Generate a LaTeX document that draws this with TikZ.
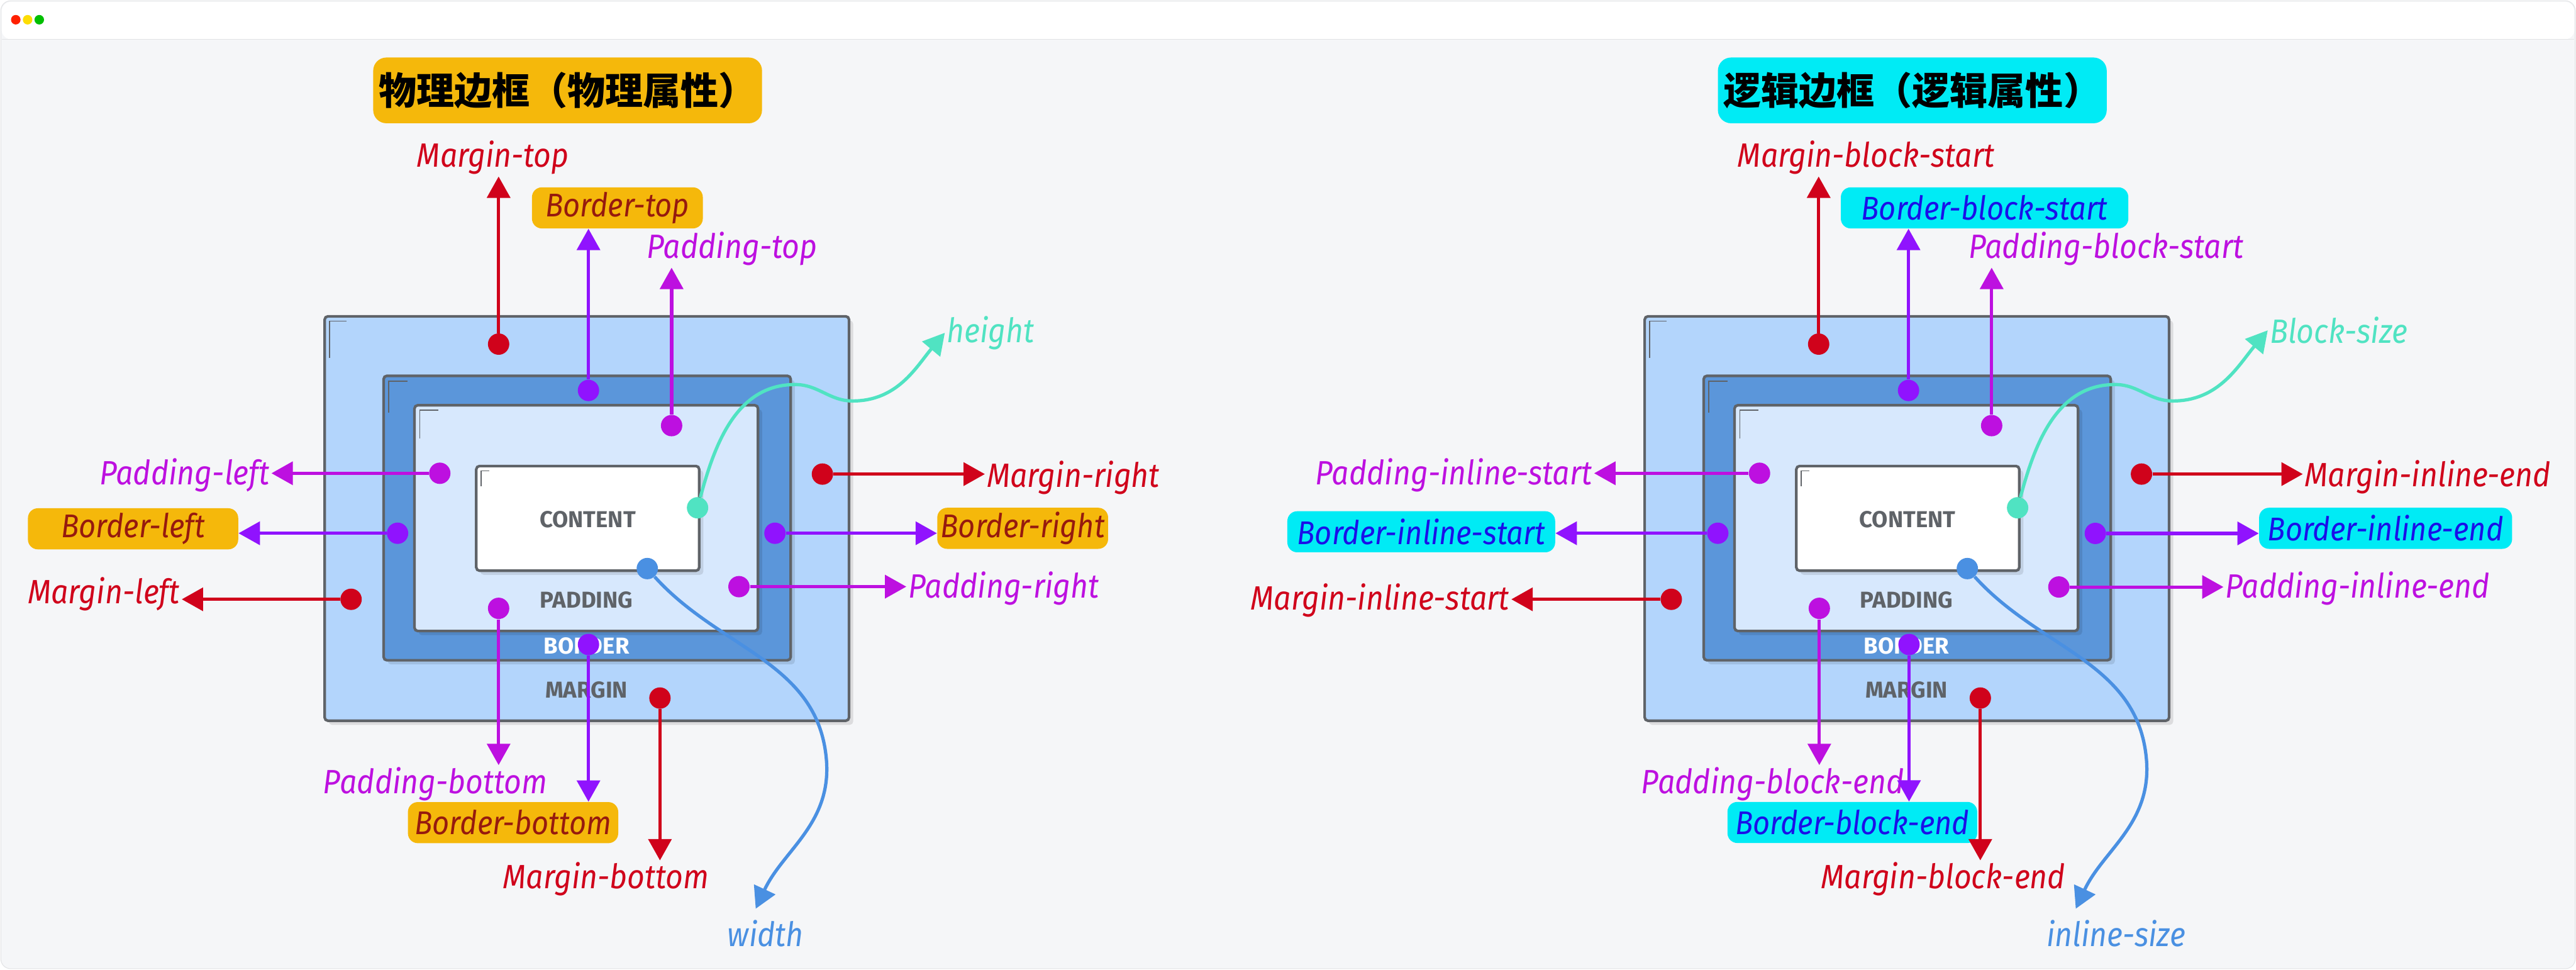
\documentclass[tikz,border=0pt]{standalone}
\usepackage{fontspec}
\setmainfont{Fira Sans}
\newfontfamily\handfont{Fira Sans}[FakeStretch=0.9]
\newfontfamily\cjkfont{Noto Sans CJK SC}
\usetikzlibrary{arrows.meta,shadows}

\definecolor{cRed}{HTML}{D0021B}
\definecolor{cViolet}{HTML}{9013FE}
\definecolor{cMag}{HTML}{BD10E0}
\definecolor{cTeal}{HTML}{50E3C2}
\definecolor{cBlue}{HTML}{4A90E2}
\definecolor{cOrange}{HTML}{F5B80B}
\definecolor{cCyan}{HTML}{00EBF5}
\definecolor{tagRed}{HTML}{961A0E}
\definecolor{tagBlue}{HTML}{1A10E8}
\definecolor{frameC}{HTML}{5F6368}
\definecolor{marC}{HTML}{B3D5FC}
\definecolor{borC}{HTML}{5B96DA}
\definecolor{padC}{HTML}{D7E8FD}
\definecolor{bodyC}{HTML}{F5F6F8}
\definecolor{winC}{HTML}{E2E3E5}

\tikzset{
  box/.style={draw=frameC, line width=1.6pt, rounded corners=2pt, fill=#1,
    drop shadow={shadow xshift=2.5pt, shadow yshift=-2.5pt, fill=black, opacity=0.10}},
  nick/.style={draw=frameC, line width=0.6pt},
  word/.style={font=\bfseries\fontsize{14}{14}\selectfont, text=frameC, inner sep=0pt},
  dot/.style={circle, fill=#1, inner sep=0pt, minimum size=13pt},
  arr/.style={draw=#1, line width=2pt, -{Triangle[length=13pt,width=14pt]}},
  lab/.style={font=\handfont\itshape\fontsize{20.5}{20.5}\selectfont, text=#1, inner sep=1pt},
  tagbox/.style={fill=#1, rounded corners=6pt, inner sep=0pt, minimum height=25pt,
    font=\handfont\itshape\fontsize{20}{20}\selectfont},
  otag/.style={tagbox=cOrange, text=tagRed},
  ctag/.style={tagbox=cCyan, text=tagBlue},
  headbox/.style={fill=#1, rounded corners=8pt, minimum width=233pt, minimum height=40pt,
    font=\cjkfont\bfseries\fontsize{23}{23}\selectfont}
}

\begin{document}
\begin{tikzpicture}[x=1pt, y=1pt]
  \useasboundingbox (0,0) rectangle (1568,-590);

  % 背景
  \fill[white] (0,0) rectangle (1568,-590);
  \draw[winC, fill=bodyC, rounded corners=6pt] (0.5,-0.5) rectangle (1567.5,-589.5);
  \fill[white, rounded corners=6pt] (1,-1) -- (1567,-1) -- (1567,-24) -- (1,-24) -- cycle;
  \draw[winC] (1,-24) -- (1567,-24);
  \fill[red!75!orange] (9.6,-12) circle (2.9);
  \fill[yellow!80!orange] (16.8,-12) circle (2.9);
  \fill[green!75!black] (23.9,-12) circle (2.9);

  % タイトル
  \node[headbox=cOrange] (titleL) at (345.5,-55) {物理边框（物理属性）};
  \node[headbox=cCyan] (titleR) at (1164,-55) {逻辑边框（逻辑属性）};

  %% 左：物理属性
  \draw[box=marC] (197.6,-192.5) rectangle (516.8,-438.6);
  \draw[box=borC] (233.5,-228.7) rectangle (481.3,-401.8);
  \draw[box=padC] (252.3,-246.6) rectangle (461.4,-384);
  \draw[box=white] (289.9,-283.6) rectangle (425.6,-347.3);
  \draw[nick] (200.5,-218) -- (200.5,-195.5) -- (211,-195.5);
  \draw[nick] (236.5,-251) -- (236.5,-232) -- (248,-232);
  \draw[nick] (255.5,-267) -- (255.5,-249.5) -- (267,-249.5);
  \draw[nick] (292.8,-296) -- (292.8,-286.5) -- (298,-286.5);

  \node[word] (contL) at (357.7,-316) {CONTENT};
  \node[word] (padL) at (357,-365) {PADDING};
  \node[word, text=white] (bordL) at (357,-393) {BORDER};
  \node[word] (margL) at (357,-420) {MARGIN};

  % height / width
  \node[dot=cTeal] (hd) at (424.6,-309) {};
  \node[lab=cTeal] (hl) at (603,-202.5) {height};
  \draw[arr=cTeal] (hd) to[out=75,in=180] (484,-234) to[out=0,in=180] (519,-244)
    to[out=0,in=230] (hl.west);
  \node[dot=cBlue] (wd) at (394,-346) {};
  \node[lab=cBlue] (wl) at (466,-568) {width};
  \coordinate (wtip) at (460,-553);
  \draw[arr=cBlue] (wd) to[out=-48,in=95] (503,-462) to[out=-85,in=65] (wtip);

  % 上
  \node[dot=cRed] (mt) at (303.5,-209.4) {};
  \node[lab=cRed] (mtl) at (300,-96) {Margin-top};
  \draw[arr=cRed] (mt) -- (mt |- mtl.south);
  \node[dot=cViolet] (bt) at (358.2,-237.6) {};
  \node[otag, minimum width=104pt] (btl) at (375.8,-126.5) {Border-top};
  \draw[arr=cViolet] (bt) -- (bt |- btl.south);
  \node[dot=cMag] (pt) at (408.8,-259) {};
  \node[lab=cMag] (ptl) at (445.5,-151.5) {Padding-top};
  \draw[arr=cMag] (pt) -- (pt |- ptl.south);

  % 右
  \node[dot=cRed] (mr) at (500.6,-288.5) {};
  \node[lab=cRed] (mrl) at (653.3,-290.6) {Margin-right};
  \draw[arr=cRed] (mr) -- (mr -| mrl.west);
  \node[dot=cViolet] (br) at (471.7,-324.5) {};
  \node[otag, minimum width=104pt] (brl) at (622.5,-321.5) {Border-right};
  \draw[arr=cViolet] (br) -- (br -| brl.west);
  \node[dot=cMag] (pr) at (449.8,-357) {};
  \node[lab=cMag] (prl) at (611,-358) {Padding-right};
  \draw[arr=cMag] (pr) -- (pr -| prl.west);

  % 左
  \node[dot=cMag] (pl) at (267.7,-288) {};
  \node[lab=cMag] (pll) at (112.3,-289.3) {Padding-left};
  \draw[arr=cMag] (pl) -- (pl -| pll.east);
  \node[dot=cViolet] (bl) at (242,-324.5) {};
  \node[otag, minimum width=128pt] (bll) at (81,-321.8) {Border-left};
  \draw[arr=cViolet] (bl) -- (bl -| bll.east);
  \node[dot=cRed] (ml) at (213.7,-364.7) {};
  \node[lab=cRed] (mll) at (63.2,-361.7) {Margin-left};
  \draw[arr=cRed] (ml) -- (ml -| mll.east);

  % 下
  \node[dot=cMag] (pb) at (303.5,-370.2) {};
  \node[lab=cMag] (pbl) at (265,-477) {Padding-bottom};
  \draw[arr=cMag] (pb) -- (pb |- pbl.north);
  \node[dot=cViolet] (bb) at (358.2,-392.2) {};
  \node[otag, minimum width=128pt] (bbl) at (312.3,-500.6) {Border-bottom};
  \draw[arr=cViolet] (bb) -- (bb |- bbl.north);
  \node[dot=cRed] (mb) at (401.7,-424.8) {};
  \node[lab=cRed] (mbl) at (368.8,-535) {Margin-bottom};
  \draw[arr=cRed] (mb) -- (mb |- mbl.north);

  %% 右：逻辑属性
  \draw[box=marC] (1001.1,-192.5) rectangle (1320.3,-438.6);
  \draw[box=borC] (1037,-228.7) rectangle (1284.8,-401.8);
  \draw[box=padC] (1055.8,-246.6) rectangle (1264.9,-384);
  \draw[box=white] (1093.4,-283.6) rectangle (1229.1,-347.3);
  \draw[nick] (1004,-218) -- (1004,-195.5) -- (1014.5,-195.5);
  \draw[nick] (1040,-251) -- (1040,-232) -- (1051.5,-232);
  \draw[nick] (1059,-267) -- (1059,-249.5) -- (1070.5,-249.5);
  \draw[nick] (1096.3,-296) -- (1096.3,-286.5) -- (1101.5,-286.5);

  \node[word] (contR) at (1161,-316) {CONTENT};
  \node[word] (padR) at (1160.5,-365) {PADDING};
  \node[word, text=white] (bordR) at (1160.5,-393) {BORDER};
  \node[word] (margR) at (1160.5,-420) {MARGIN};

  % block-size / inline-size
  \node[dot=cTeal] (bsd) at (1228.1,-309) {};
  \node[lab=cTeal] (bsl) at (1423.6,-201) {Block-size};
  \draw[arr=cTeal] (bsd) to[out=75,in=180] (1287.5,-234) to[out=0,in=180] (1322.5,-244)
    to[out=0,in=230] (bsl.west);
  \node[dot=cBlue] (isd) at (1197.5,-346) {};
  \node[lab=cBlue] (isl) at (1288,-568) {inline-size};
  \coordinate (istip) at (1263.5,-553);
  \draw[arr=cBlue] (isd) to[out=-48,in=95] (1306.5,-462) to[out=-85,in=65] (istip);

  % block-start
  \node[dot=cRed] (mbs) at (1107,-209.4) {};
  \node[lab=cRed] (mbsl) at (1135.9,-96) {Margin-block-start};
  \draw[arr=cRed] (mbs) -- (mbs |- mbsl.south);
  \node[dot=cViolet] (bbs) at (1161.7,-237.6) {};
  \node[ctag, minimum width=175pt] (bbsl) at (1208,-126.5) {Border-block-start};
  \draw[arr=cViolet] (bbs) -- (bbs |- bbsl.south);
  \node[dot=cMag] (pbs) at (1212.3,-259) {};
  \node[lab=cMag] (pbsl) at (1282,-151.5) {Padding-block-start};
  \draw[arr=cMag] (pbs) -- (pbs |- pbsl.south);

  % inline-end
  \node[dot=cRed] (mie) at (1303.5,-288.5) {};
  \node[lab=cRed] (miel) at (1477.8,-290.3) {Margin-inline-end};
  \draw[arr=cRed] (mie) -- (mie -| miel.west);
  \node[dot=cViolet] (bie) at (1275.4,-324.6) {};
  \node[ctag, minimum width=154pt] (biel) at (1452.1,-321.5) {Border-inline-end};
  \draw[arr=cViolet] (bie) -- (bie -| biel.west);
  \node[dot=cMag] (pie) at (1253.2,-357.2) {};
  \node[lab=cMag] (piel) at (1435,-358) {Padding-inline-end};
  \draw[arr=cMag] (pie) -- (pie -| piel.west);

  % inline-start
  \node[dot=cMag] (pis) at (1071,-288) {};
  \node[lab=cMag] (pisl) at (884.9,-289.3) {Padding-inline-start};
  \draw[arr=cMag] (pis) -- (pis -| pisl.east);
  \node[dot=cViolet] (bis) at (1045.6,-324.5) {};
  \node[ctag, minimum width=163pt] (bisl) at (865.1,-323.6) {Border-inline-start};
  \draw[arr=cViolet] (bis) -- (bis -| bisl.east);
  \node[dot=cRed] (mis) at (1017.3,-364.7) {};
  \node[lab=cRed] (misl) at (840,-365.5) {Margin-inline-start};
  \draw[arr=cRed] (mis) -- (mis -| misl.east);

  % block-end
  \node[dot=cMag] (pbe) at (1107.4,-370.2) {};
  \node[lab=cMag] (pbel) at (1079,-477) {Padding-block-end};
  \draw[arr=cMag] (pbe) -- (pbe |- pbel.north);
  \node[dot=cViolet] (bbe) at (1162,-392.2) {};
  \node[ctag, minimum width=152pt] (bbel) at (1127.5,-500.5) {Border-block-end};
  \draw[arr=cViolet] (bbe) -- (bbe |- bbel.north);
  \node[dot=cRed] (mbe) at (1205.4,-424.8) {};
  \node[lab=cRed] (mbel) at (1182.8,-535) {Margin-block-end};
  \draw[arr=cRed] (mbe) -- (mbe |- mbel.north);
\end{tikzpicture}
\end{document}
